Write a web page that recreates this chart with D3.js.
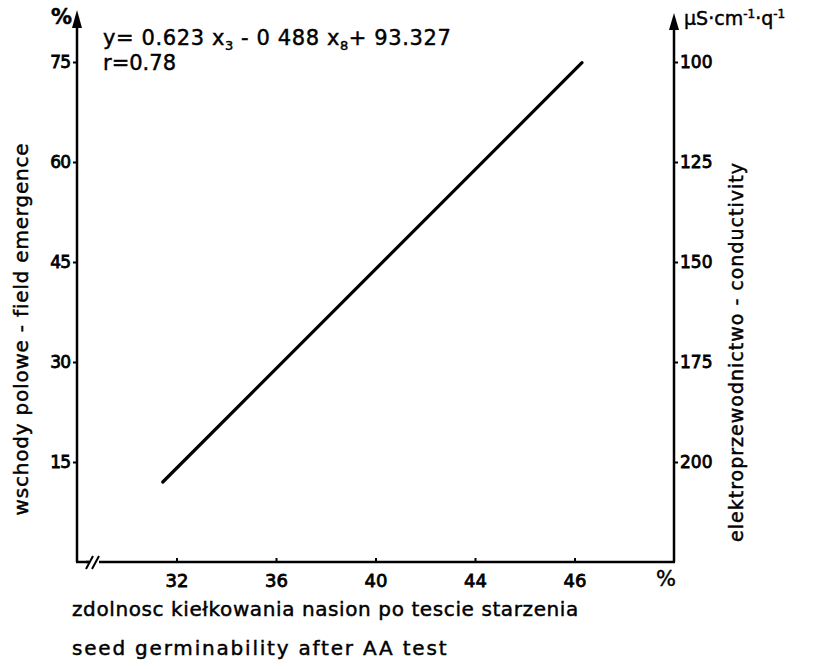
<!DOCTYPE html>
<html><head><meta charset="utf-8">
<script src="https://cdn.jsdelivr.net/npm/d3@7/dist/d3.min.js"></script>
<style>body{margin:0;background:#fff}text{font-family:"DejaVu Sans",sans-serif;fill:#000;stroke:#000;stroke-width:0.45px}.tick text{stroke-width:0.8px}</style>
</head><body>
<svg id="c" width="813" height="669"></svg>
<script>
// data
const xTicks = [32, 36, 40, 44, 48];
const xTickLabels = ["32", "36", "40", "44", "46"];
const yLeftTicks = [15, 30, 45, 60, 75];
const yRightTicks = [100, 125, 150, 175, 200];
const lineX = [31.45, 48.3];
const lineY = [12, 74.9];
const equation = ["y= 0.623 x", "3", " - 0 488 x", "8", "+ 93.327"];
const rText = "r=0.78";

const svg = d3.select("#c");
const x = d3.scaleLinear().domain([28, 52]).range([77, 674]);
const yL = d3.scaleLinear().domain([0, 75]).range([562, 62]);
const yR = d3.scaleLinear().domain([225, 100]).range([562, 62]);

const ax = svg.append("g").attr("stroke", "#000").attr("fill", "none");
// left axis
ax.append("line").attr("x1", 77).attr("x2", 77).attr("y1", 562).attr("y2", 22).attr("stroke-width", 2.5);
ax.append("path").attr("d", "M77,10 L72,28 L82,28 Z").attr("fill", "#000").attr("stroke", "none");
// right axis
ax.append("line").attr("x1", 674).attr("x2", 674).attr("y1", 562).attr("y2", 24).attr("stroke-width", 2.5);
ax.append("path").attr("d", "M674,13 L669,30 L679,30 Z").attr("fill", "#000").attr("stroke", "none");
// bottom axis
ax.append("line").attr("x1", 76).attr("x2", 675).attr("y1", 562).attr("y2", 562).attr("stroke-width", 2.5);
// break marks
ax.append("rect").attr("x", 89).attr("y", 556).attr("width", 10).attr("height", 12).attr("fill", "#fff").attr("stroke", "none");
ax.append("line").attr("x1", 86).attr("y1", 569).attr("x2", 93).attr("y2", 556).attr("stroke-width", 2);
ax.append("line").attr("x1", 92).attr("y1", 569).attr("x2", 99).attr("y2", 556).attr("stroke-width", 2);
ax.append("line").attr("x1", 86).attr("y1", 562).attr("x2", 89).attr("y2", 562).attr("stroke-width", 2.5);

const axisFont = 17;
// left axis ticks & labels via d3 axis
const gL = svg.append("g").attr("transform", "translate(77,0)")
  .call(d3.axisLeft(yL).tickValues(yLeftTicks).tickSize(4).tickPadding(3).tickFormat(d3.format("d")));
gL.select(".domain").remove();
gL.selectAll("line").attr("stroke-width", 2);
gL.selectAll("text").style("font-size", axisFont + "px").attr("dy", "0.35em").attr("letter-spacing", "-1px");

const gR = svg.append("g").attr("transform", "translate(674,0)")
  .call(d3.axisRight(yR).tickValues(yRightTicks).tickSize(4).tickPadding(2).tickFormat(d3.format("d")));
gR.select(".domain").remove();
gR.selectAll("line").attr("stroke-width", 2);
gR.selectAll("text").style("font-size", axisFont + "px").attr("dy", "0.35em");

const gB = svg.append("g").attr("transform", "translate(0,562)")
  .call(d3.axisBottom(x).tickValues(xTicks).tickSize(-4).tickPadding(12).tickFormat((d, i) => xTickLabels[i]));
gB.select(".domain").remove();
gB.selectAll("line").attr("stroke-width", 2);
gB.selectAll("text").style("font-size", "18px");

// regression line
svg.append("line")
  .attr("x1", x(lineX[0])).attr("y1", yL(lineY[0]))
  .attr("x2", x(lineX[1])).attr("y2", yL(lineY[1]))
  .attr("stroke", "#000").attr("stroke-width", 3.2).attr("stroke-linecap", "round");

// units
svg.append("text").attr("x", 51).attr("y", 24).style("font-size", "21px").style("font-weight", "bold").text("%");
svg.append("text").attr("x", 656).attr("y", 586).style("font-size", "21px").text("%");
const u = svg.append("text").attr("x", 684).attr("y", 25).style("font-size", "19px");
u.append("tspan").text("μS·cm");
u.append("tspan").attr("dy", -7).style("font-size", "12px").text("-1");
u.append("tspan").attr("dy", 7).text("·q");
u.append("tspan").attr("dy", -7).style("font-size", "12px").text("-1");

// equation
const eq = svg.append("text").attr("x", 103).attr("y", 45).style("font-size", "21px").attr("letter-spacing", "0.6px");
equation.forEach((s, i) => {
  const t = eq.append("tspan").text(s);
  if (i % 2 === 1) t.attr("dy", 5).style("font-size", "13px");
  else if (i > 0) t.attr("dy", -5);
});
svg.append("text").attr("x", 103).attr("y", 70).style("font-size", "21px").text(rText);

// axis titles
svg.append("text").attr("transform", "translate(28,329) rotate(-90)").attr("text-anchor", "middle")
  .style("font-size", "20px").attr("letter-spacing", "0.8px").text("wschody polowe - field emergence");
svg.append("text").attr("transform", "translate(743,352) rotate(-90)").attr("text-anchor", "middle")
  .style("font-size", "19px").attr("letter-spacing", "1px").text("elektroprzewodnictwo - conductivity");
svg.append("text").attr("x", 72).attr("y", 616).style("font-size", "20px").attr("letter-spacing", "0.6px")
  .text("zdolnosc kiełkowania  nasion po tescie starzenia");
svg.append("text").attr("x", 72).attr("y", 655).style("font-size", "20px").attr("letter-spacing", "1.8px")
  .text("seed germinability after AA test");
</script>
</body></html>
